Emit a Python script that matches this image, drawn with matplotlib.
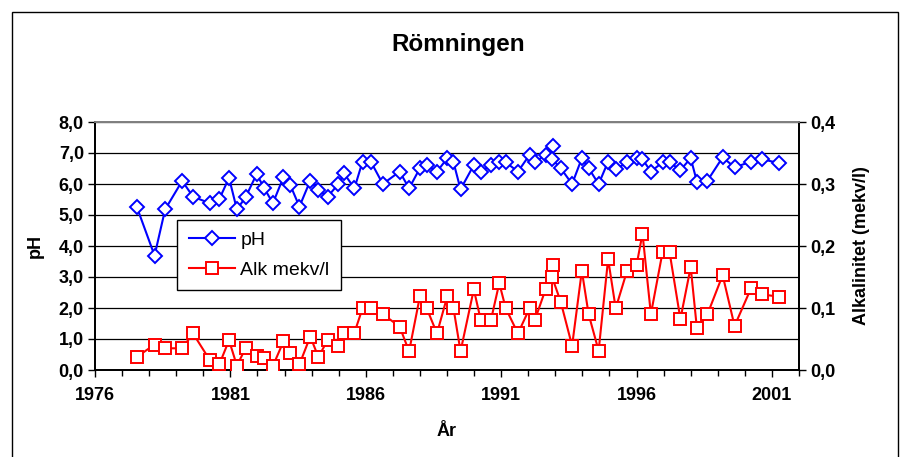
import matplotlib
matplotlib.use("Agg")
import matplotlib.pyplot as plt
from matplotlib.ticker import MultipleLocator, FuncFormatter
from matplotlib.patches import Rectangle

plt.rcParams['font.family'] = ['Liberation Sans', 'DejaVu Sans']

title = "Römningen"
x_label = "År"
y_left_label = "pH"
y_right_label = "Alkalinitet (mekv/l)"
series_names = ["pH", "Alk mekv/l"]

years = [1977.54, 1978.20, 1978.59, 1979.22, 1979.62, 1980.24, 1980.59, 1980.95,
         1981.24, 1981.56, 1981.97, 1982.24, 1982.57, 1982.96, 1983.21, 1983.55,
         1983.95, 1984.25, 1984.59, 1984.99, 1985.20, 1985.58, 1985.88, 1986.20,
         1986.63, 1987.25, 1987.60, 1988.00, 1988.25, 1988.63, 1989.01, 1989.24,
         1989.50, 1989.99, 1990.25, 1990.62, 1990.93, 1991.17, 1991.62, 1992.05,
         1992.24, 1992.64, 1992.90, 1992.88, 1993.20, 1993.62, 1993.98, 1994.23,
         1994.60, 1994.95, 1995.23, 1995.65, 1996.00, 1996.22, 1996.53, 1996.96,
         1997.22, 1997.62, 1998.00, 1998.23, 1998.62, 1999.18, 1999.62, 2000.23,
         2000.65, 2001.27]

ph = [5.27, 3.69, 5.18, 6.10, 5.59, 5.38, 5.51, 6.20,
      5.18, 5.57, 6.32, 5.88, 5.38, 6.22, 5.97, 5.27,
      6.11, 5.81, 5.59, 6.00, 6.34, 5.86, 6.72, 6.70,
      6.00, 6.40, 5.86, 6.51, 6.61, 6.40, 6.83, 6.70,
      5.83, 6.61, 6.40, 6.61, 6.70, 6.70, 6.40, 6.94,
      6.70, 6.94, 7.23, 6.80, 6.51, 6.00, 6.83, 6.51,
      6.00, 6.72, 6.47, 6.70, 6.83, 6.80, 6.40, 6.70,
      6.70, 6.45, 6.83, 6.08, 6.11, 6.86, 6.54, 6.72,
      6.80, 6.67]

alk = [0.021, 0.041, 0.035, 0.035, 0.059, 0.016, 0.009, 0.048,
       0.007, 0.035, 0.023, 0.020, 0.0065, 0.046, 0.028, 0.009,
       0.054, 0.021, 0.048, 0.039, 0.060, 0.060, 0.0995, 0.0995,
       0.090, 0.070, 0.030, 0.119, 0.0995, 0.059, 0.119, 0.0995,
       0.030, 0.130, 0.080, 0.080, 0.140, 0.0995, 0.059, 0.0995,
       0.080, 0.130, 0.169, 0.150, 0.110, 0.039, 0.160, 0.090,
       0.031, 0.179, 0.0995, 0.160, 0.169, 0.220, 0.090, 0.190,
       0.190, 0.082, 0.166, 0.067, 0.090, 0.153, 0.071, 0.132,
       0.122, 0.118]

x_major = [1976, 1981, 1986, 1991, 1996, 2001]

W, H = 901, 457
fig = plt.figure(figsize=(W / 100, H / 100), dpi=100)
fig.patch.set_facecolor('white')

# outer chart border
fig.patches.append(Rectangle((12 / W, -0.02), (898 - 12) / W, 1 - 12 / H + 0.02,
                             transform=fig.transFigure, fill=False,
                             edgecolor='black', linewidth=1.0))

ax = fig.add_axes([95 / W, 1 - 370 / H, (799 - 95) / W, (370 - 122) / H])
ax2 = ax.twinx()

ax.set_xlim(1976, 2002)
ax.set_ylim(0, 8)
ax2.set_ylim(0, 0.4)

ax.yaxis.set_major_locator(MultipleLocator(1))
ax2.yaxis.set_major_locator(MultipleLocator(0.1))
ax.set_xticks(x_major)
ax.xaxis.set_minor_locator(MultipleLocator(1))
ax.grid(axis='y', color='black', linewidth=0.9)
ax.set_axisbelow(True)

ax.yaxis.set_major_formatter(FuncFormatter(lambda v, p: f"{v:.1f}".replace('.', ',')))
ax2.yaxis.set_major_formatter(FuncFormatter(lambda v, p: f"{v:.1f}".replace('.', ',')))
ax.xaxis.set_major_formatter(FuncFormatter(lambda v, p: f"{int(round(v))}"))

TS = 13
ax.tick_params(axis='x', which='major', direction='out', length=5, width=1, pad=7,
               labelsize=TS)
ax.tick_params(axis='x', which='minor', direction='out', length=4, width=1)
ax.tick_params(axis='y', direction='out', length=5, width=1, pad=3, labelsize=TS)
ax2.tick_params(axis='y', direction='out', length=5, width=1, pad=3, labelsize=TS)
for lab in ax.get_xticklabels() + ax.get_yticklabels() + ax2.get_yticklabels():
    lab.set_fontweight('bold')

for a in (ax, ax2):
    for s in ('left', 'right', 'bottom'):
        a.spines[s].set_color('black')
        a.spines[s].set_linewidth(1.3)
    a.spines['top'].set_color('#808080')
    a.spines['top'].set_linewidth(1.3)

l1, = ax.plot(years, ph, color='#0000FF', linewidth=1.5, marker='D', markersize=6.8,
              markerfacecolor='white', markeredgecolor='#0000FF', markeredgewidth=1.4,
              label=series_names[0], zorder=3)
l2, = ax2.plot(years, alk, color='#FF0000', linewidth=1.5, marker='s', markersize=8.3,
               markerfacecolor='white', markeredgecolor='#FF0000', markeredgewidth=1.4,
               label=series_names[1], zorder=3)

fig.text(458 / W, 1 - 45 / H, title, ha='center', va='center', fontsize=17.5,
         fontweight='bold')
fig.text(447 / W, 1 - 432 / H, x_label, ha='center', va='center', fontsize=TS,
         fontweight='bold')
fig.text(35 / W, 1 - 246 / H, y_left_label, ha='center', va='center', fontsize=TS,
         fontweight='bold', rotation=90)
fig.text(862 / W, 1 - 246 / H, y_right_label, ha='center', va='center', fontsize=TS,
         fontweight='bold', rotation=90)

leg = ax2.legend(handles=[l1, l2], loc='upper left',
                 bbox_to_anchor=((177 - 95) / (799 - 95), (370 - 220) / (370 - 122)),
                 prop={'size': 14}, frameon=True, fancybox=False, shadow=False,
                 edgecolor='black', framealpha=1, borderpad=0.6, handlelength=2.4,
                 labelspacing=0.6, handletextpad=0.25, borderaxespad=0)
leg.get_frame().set_linewidth(1.0)

fig.savefig('out.png', dpi=100)
